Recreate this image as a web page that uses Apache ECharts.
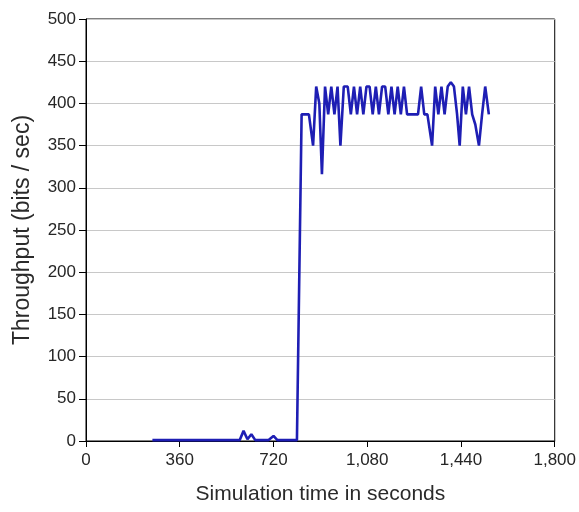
<!DOCTYPE html>
<html>
<head>
<meta charset="utf-8">
<title>Throughput</title>
<script src="https://cdn.jsdelivr.net/npm/echarts@6/dist/echarts.min.js"></script>
<style>
  html, body { margin: 0; padding: 0; background: #ffffff; }
  #chart { width: 579px; height: 512px; }
</style>
</head>
<body>
<div id="chart"></div>
<script>
// Simulation time (seconds) of each throughput sample
const timeSec = [
  255, 590, 605, 620, 635, 650, 700, 720, 735, 810,
  828, 856, 872, 884, 896, 906, 918, 930, 942, 954,
  966, 977, 990, 1005, 1017, 1029, 1041, 1053, 1065, 1077,
  1089, 1101, 1113, 1125, 1137, 1149, 1161, 1173, 1185, 1197,
  1209, 1221, 1233, 1275, 1287, 1299, 1311, 1329, 1341, 1353,
  1365, 1377, 1389, 1401, 1413, 1425, 1435, 1447, 1459, 1471,
  1483, 1495, 1509, 1521, 1533, 1547
];
// Throughput (bits / sec) at those times
const throughput = [
  1, 1, 12, 2, 8, 1, 1, 6, 1, 1,
  387, 387, 350, 420, 400, 316, 420, 387, 420, 387,
  420, 350, 420, 420, 387, 420, 387, 420, 387, 420,
  420, 387, 420, 387, 420, 420, 387, 420, 387, 420,
  387, 420, 387, 387, 420, 387, 387, 350, 420, 387,
  420, 387, 420, 425, 420, 387, 350, 420, 387, 420,
  387, 375, 350, 387, 420, 387
];
// Axis ranges and tick spacing
const xTicks = [0, 360, 720, 1080, 1440, 1800];
const yTicks = [0, 50, 100, 150, 200, 250, 300, 350, 400, 450, 500];

const points = timeSec.map((t, i) => [t, throughput[i]]);

const chart = echarts.init(document.getElementById('chart'), null, { renderer: 'canvas' });

const labelFont = {
  fontFamily: '"Liberation Sans", Arial, sans-serif',
  fontSize: 17,
  color: '#262626'
};

chart.setOption({
  animation: false,
  backgroundColor: '#ffffff',
  grid: {
    left: 86,
    right: 24,
    top: 19,
    bottom: 71,
    show: true,
    borderColor: '#000000',
    borderWidth: 1,
    backgroundColor: 'transparent'
  },
  xAxis: {
    type: 'value',
    min: xTicks[0],
    max: xTicks[xTicks.length - 1],
    interval: xTicks[1] - xTicks[0],
    name: 'Simulation time in seconds',
    nameLocation: 'middle',
    nameGap: 43,
    nameTextStyle: {
      fontFamily: '"Liberation Sans", Arial, sans-serif',
      fontSize: 21,
      color: '#2a2a2a'
    },
    axisLine: { show: true, onZero: false, lineStyle: { color: '#000000', width: 1 } },
    axisTick: { show: true, inside: false, length: 6, lineStyle: { color: '#000000' } },
    axisLabel: Object.assign({
      margin: 11,
      formatter: v => v.toLocaleString('en-US')
    }, labelFont),
    splitLine: { show: false }
  },
  yAxis: {
    type: 'value',
    min: yTicks[0],
    max: yTicks[yTicks.length - 1],
    interval: yTicks[1] - yTicks[0],
    name: 'Throughput (bits / sec)',
    nameLocation: 'middle',
    nameGap: 52,
    nameTextStyle: {
      fontFamily: '"Liberation Sans", Arial, sans-serif',
      fontSize: 23,
      color: '#2a2a2a'
    },
    axisLine: { show: true, onZero: false, lineStyle: { color: '#000000', width: 1 } },
    axisTick: { show: true, inside: false, length: 7, lineStyle: { color: '#000000' } },
    axisLabel: Object.assign({ margin: 10 }, labelFont),
    splitLine: { show: true, lineStyle: { color: '#c8c8c8', width: 1 } }
  },
  series: [{
    type: 'line',
    data: points,
    symbol: 'none',
    smooth: false,
    lineStyle: { color: '#1e1eb4', width: 2.6 },
    z: 3
  }]
});
</script>
</body>
</html>
